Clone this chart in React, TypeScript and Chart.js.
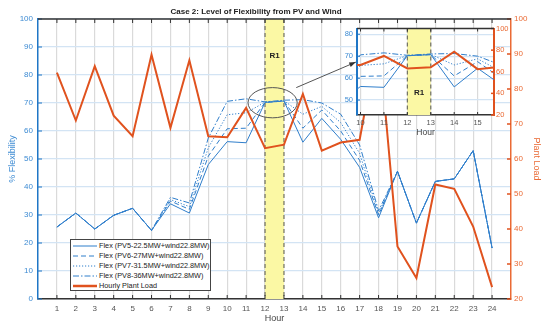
import React, { useEffect, useRef } from 'react';
import { Chart, registerables } from 'chart.js';

Chart.register(...registerables);

// ---------------- data ----------------
const hours = [1, 2, 3, 4, 5, 6, 7, 8, 9, 10, 11, 12, 13, 14, 15, 16, 17, 18, 19, 20, 21, 22, 23, 24];
const flexPV5 = [25.7, 30.7, 25.0, 29.9, 32.4, 24.5, 34.0, 30.7, 48.0, 56.2, 55.8, 70.2, 70.7, 56.0, 64.5, 57.0, 47.0, 29.0, 45.6, 27.1, 42.0, 42.9, 53.0, 18.2];
const flexPV6 = [25.7, 30.7, 25.0, 29.9, 32.4, 24.5, 35.0, 32.0, 51.0, 60.8, 61.0, 70.2, 70.7, 61.0, 67.5, 60.0, 49.5, 30.0, 45.6, 27.1, 42.0, 42.9, 53.0, 18.2];
const flexPV7 = [25.7, 30.7, 25.0, 29.9, 32.4, 24.5, 35.5, 33.0, 54.0, 65.8, 66.5, 70.3, 70.8, 66.0, 68.8, 63.0, 52.0, 30.5, 45.6, 27.1, 42.0, 42.9, 53.0, 18.2];
const flexPV8 = [25.7, 30.7, 25.0, 29.9, 32.4, 24.5, 36.3, 34.3, 57.5, 70.6, 71.5, 70.4, 71.0, 71.2, 70.0, 66.0, 55.0, 31.5, 45.6, 27.1, 42.0, 42.9, 53.0, 18.2];
const plantLoad = [84.7, 71.0, 86.5, 72.4, 66.5, 89.8, 68.9, 88.2, 66.5, 66.2, 74.6, 63.1, 64.1, 78.6, 62.4, 64.7, 65.5, 95.0, 35.0, 26.0, 52.7, 51.5, 40.7, 23.4];

const seriesLabels = [
  'Flex (PV5-22.5MW+wind22.8MW)',
  'Flex (PV6-27MW+wind22.8MW)',
  'Flex (PV7-31.5MW+wind22.8MW)',
  'Flex (PV8-36MW+wind22.8MW)',
  'Hourly Plant Load',
];
const chartTitle = 'Case 2: Level of Flexibility from PV and Wind';
const xTitle = 'Hour';
const leftTitle = '% Flexibility';
const rightTitle = 'Plant Load';
const leftTicks = [0, 10, 20, 30, 40, 50, 60, 70, 80, 90, 100];
const rightTicks = [20, 30, 40, 50, 60, 70, 80, 90, 100];
const insetXTicks = [10, 11, 12, 13, 14, 15];
const insetLeftTicks = [50, 60, 70, 80];
const insetRightTicks = [20, 40, 60, 80, 100];
const regionStart = 12;
const regionEnd = 13;
const regionLabel = 'R1';

// ---------------- styles ----------------
const BLUE = '#2f7ecb';
const BLUE_TXT = '#3d8bd3';
const BLUE_AXIS = '#1f76c6';
const ORANGE = '#e0521e';
const ORANGE_TXT = '#ea6a34';
const FONT = '"Liberation Sans", Arial, sans-serif';
const DASHES: number[][] = [[], [5, 3], [1.2, 1.8], [6, 2, 1.5, 2]];

function pts(arr: number[]) {
  return hours.map((h, i) => ({ x: h, y: arr[i] }));
}

function makeDatasets(): any[] {
  const flex = [flexPV5, flexPV6, flexPV7, flexPV8];
  const ds: any[] = [
    {
      label: seriesLabels[4],
      data: pts(plantLoad),
      borderColor: ORANGE,
      backgroundColor: ORANGE,
      borderWidth: 2,
      pointRadius: 0,
      yAxisID: 'y1',
      order: 0,
    },
  ];
  flex.forEach((arr, i) => {
    ds.push({
      label: seriesLabels[i],
      data: pts(arr),
      borderColor: BLUE,
      backgroundColor: BLUE,
      borderWidth: 1,
      borderDash: DASHES[i],
      pointRadius: 0,
      yAxisID: 'y',
      order: i + 1,
    });
  });
  return ds;
}

const setTicks = (vals: number[]) => (s: any) => {
  s.ticks = vals.map((v) => ({ value: v }));
};

const bandPlugin = {
  id: 'band',
  beforeDatasetsDraw(chart: any, _a: any, opts: any) {
    const { ctx, chartArea: ca, scales } = chart;
    const x = scales.x;
    const x0 = x.getPixelForValue(regionStart);
    const x1 = x.getPixelForValue(regionEnd);
    ctx.save();
    ctx.fillStyle = '#fbf8a4';
    ctx.fillRect(x0, ca.top, x1 - x0, ca.bottom - ca.top);
    ctx.strokeStyle = '#707060';
    ctx.lineWidth = 1.2;
    ctx.setLineDash([4, 3]);
    [x0, x1].forEach((px) => {
      ctx.beginPath();
      ctx.moveTo(px, ca.top);
      ctx.lineTo(px, ca.bottom);
      ctx.stroke();
    });
    ctx.setLineDash([]);
    ctx.fillStyle = '#222';
    ctx.font = `bold ${opts.fontSize || 8}px ${FONT}`;
    ctx.textAlign = 'center';
    ctx.textBaseline = 'middle';
    ctx.fillText(regionLabel, (x0 + x1) / 2, scales.y.getPixelForValue(opts.labelY));
    ctx.restore();
  },
};

const frameTicks = (ctx: any, ca: any, scales: any, len: number, xs: number[], ls: number[], rs: number[]) => {
  ctx.save();
  ctx.lineWidth = 1;
  ctx.strokeStyle = '#333';
  xs.forEach((v) => {
    const px = scales.x.getPixelForValue(v);
    ctx.beginPath();
    ctx.moveTo(px, ca.top);
    ctx.lineTo(px, ca.top + len);
    ctx.moveTo(px, ca.bottom);
    ctx.lineTo(px, ca.bottom - len);
    ctx.stroke();
  });
  ctx.strokeStyle = BLUE_AXIS;
  ls.forEach((v) => {
    const py = scales.y.getPixelForValue(v);
    ctx.beginPath();
    ctx.moveTo(ca.left, py);
    ctx.lineTo(ca.left + len, py);
    ctx.stroke();
  });
  ctx.strokeStyle = ORANGE;
  ctx.lineWidth = 1.5;
  rs.forEach((v) => {
    const py = scales.y1.getPixelForValue(v);
    ctx.beginPath();
    ctx.moveTo(ca.right, py);
    ctx.lineTo(ca.right - len, py);
    ctx.stroke();
  });
  // top frame line
  ctx.strokeStyle = '#333';
  ctx.lineWidth = 1.5;
  ctx.beginPath();
  ctx.moveTo(ca.left, ca.top);
  ctx.lineTo(ca.right, ca.top);
  ctx.stroke();
  ctx.restore();
};

const mainExtras = {
  id: 'mainExtras',
  afterDatasetsDraw(chart: any) {
    const { ctx, chartArea: ca, scales } = chart;
    frameTicks(ctx, ca, scales, 4, hours, leftTicks, rightTicks);
    const x = scales.x;
    const y = scales.y;
    // ellipse around region R1
    const cx = x.getPixelForValue(12.4);
    const cy = y.getPixelForValue(70.1);
    const rx = x.getPixelForValue(12.4 + 1.3) - cx;
    const ry = cy - y.getPixelForValue(70.1 + 5.4);
    ctx.save();
    ctx.strokeStyle = '#555';
    ctx.lineWidth = 1;
    ctx.beginPath();
    ctx.ellipse(cx, cy, rx, ry, 0, 0, Math.PI * 2);
    ctx.stroke();
    // arrow to the inset
    const ax0 = x.getPixelForValue(13.65);
    const ay0 = y.getPixelForValue(75.5);
    const ax1 = x.getPixelForValue(16.8);
    const ay1 = y.getPixelForValue(84.6);
    ctx.beginPath();
    ctx.moveTo(ax0, ay0);
    ctx.lineTo(ax1, ay1);
    ctx.stroke();
    const ang = Math.atan2(ay1 - ay0, ax1 - ax0);
    const hl = 7;
    ctx.fillStyle = '#333';
    ctx.beginPath();
    ctx.moveTo(ax1, ay1);
    ctx.lineTo(ax1 - hl * Math.cos(ang - 0.35), ay1 - hl * Math.sin(ang - 0.35));
    ctx.lineTo(ax1 - hl * Math.cos(ang + 0.35), ay1 - hl * Math.sin(ang + 0.35));
    ctx.closePath();
    ctx.fill();
    ctx.restore();
  },
};

const insetExtras = {
  id: 'insetExtras',
  beforeDraw(chart: any) {
    const { ctx, chartArea: ca } = chart;
    ctx.save();
    ctx.fillStyle = '#fff';
    ctx.fillRect(ca.left, ca.top, ca.right - ca.left, ca.bottom - ca.top);
    ctx.restore();
  },
  afterDatasetsDraw(chart: any) {
    const { ctx, chartArea: ca, scales } = chart;
    frameTicks(ctx, ca, scales, 3, insetXTicks, insetLeftTicks, insetRightTicks);
  },
};

function mainConfig(): any {
  return {
    type: 'line',
    data: { datasets: makeDatasets() },
    plugins: [bandPlugin, mainExtras],
    options: {
      animation: false,
      responsive: false,
      events: [],
      layout: { padding: { top: 19, left: 0, right: 0, bottom: 0 } },
      plugins: {
        legend: { display: false },
        tooltip: { enabled: false },
        title: { display: false },
        band: { labelY: 86.9, fontSize: 8 },
      },
      scales: {
        x: {
          type: 'linear',
          min: 0,
          max: 25,
          afterBuildTicks: setTicks(hours),
          afterFit: (s: any) => { s.height = 30; },
          ticks: { color: '#555', font: { family: FONT, size: 8 }, padding: 5, maxRotation: 0, autoSkip: false },
          grid: { color: '#dadada', lineWidth: 1.2, drawTicks: false },
          border: { color: '#333', width: 1.5 },
          title: { display: true, text: xTitle, color: '#444', font: { family: FONT, size: 9 }, padding: { top: 0, bottom: 4.6 } },
        },
        y: {
          position: 'left',
          min: 0,
          max: 100,
          afterBuildTicks: setTicks(leftTicks),
          afterFit: (s: any) => { s.width = 38; },
          ticks: { color: BLUE_TXT, font: { family: FONT, size: 8 }, padding: 5 },
          grid: { color: '#d3e4f4', lineWidth: 1.2, drawTicks: false },
          border: { color: BLUE_AXIS, width: 1.5 },
          title: { display: true, text: leftTitle, color: BLUE_TXT, font: { family: FONT, size: 9 }, padding: { top: 7, bottom: 0 } },
        },
        y1: {
          position: 'right',
          min: 20,
          max: 100,
          afterBuildTicks: setTicks(rightTicks),
          afterFit: (s: any) => { s.width = 39; },
          ticks: { color: ORANGE_TXT, font: { family: FONT, size: 8 }, padding: 3 },
          grid: { display: false, drawTicks: false },
          border: { color: ORANGE_TXT, width: 1.5 },
          title: { display: true, text: rightTitle, color: ORANGE_TXT, font: { family: FONT, size: 9 }, padding: { top: 8, bottom: 0 } },
        },
      },
    },
  };
}

function insetConfig(): any {
  return {
    type: 'line',
    data: { datasets: makeDatasets() },
    plugins: [insetExtras, bandPlugin],
    options: {
      animation: false,
      responsive: false,
      events: [],
      layout: { padding: { top: 8, left: 0, right: 0, bottom: 0 } },
      plugins: {
        legend: { display: false },
        tooltip: { enabled: false },
        title: { display: false },
        band: { labelY: 53.3, fontSize: 8 },
      },
      scales: {
        x: {
          type: 'linear',
          min: 9.85,
          max: 15.7,
          afterBuildTicks: setTicks(insetXTicks),
          afterFit: (s: any) => { s.height = 30; },
          ticks: { color: '#555', font: { family: FONT, size: 7.5 }, padding: 3, maxRotation: 0, autoSkip: false },
          grid: { color: '#dadada', lineWidth: 1.2, drawTicks: false },
          border: { color: '#333', width: 1.5 },
          title: { display: true, text: xTitle, color: '#444', font: { family: FONT, size: 8.5 }, padding: { top: 0, bottom: 7.2 } },
        },
        y: {
          position: 'left',
          min: 43.2,
          max: 82.6,
          afterBuildTicks: setTicks(insetLeftTicks),
          afterFit: (s: any) => { s.width = 27; },
          ticks: { color: BLUE_TXT, font: { family: FONT, size: 7.5 }, padding: 4 },
          grid: { color: '#d3e4f4', lineWidth: 1.2, drawTicks: false },
          border: { color: BLUE_AXIS, width: 2 },
        },
        y1: {
          position: 'right',
          min: 20,
          max: 100,
          afterBuildTicks: setTicks(insetRightTicks),
          afterFit: (s: any) => { s.width = 26; },
          ticks: { color: ORANGE_TXT, font: { family: FONT, size: 7.5 }, padding: 2 },
          grid: { display: false, drawTicks: false },
          border: { color: ORANGE, width: 2 },
        },
      },
    },
  };
}

const legendItems = [
  { label: seriesLabels[0], color: BLUE, dash: '', width: 1 },
  { label: seriesLabels[1], color: BLUE, dash: '5 3', width: 1 },
  { label: seriesLabels[2], color: BLUE, dash: '1.2 1.8', width: 1 },
  { label: seriesLabels[3], color: BLUE, dash: '6 2 1.5 2', width: 1 },
  { label: seriesLabels[4], color: ORANGE, dash: '', width: 2.5 },
];

export default function App() {
  const mainRef = useRef<HTMLCanvasElement | null>(null);
  const insetRef = useRef<HTMLCanvasElement | null>(null);

  useEffect(() => {
    const main = new Chart(mainRef.current as HTMLCanvasElement, mainConfig());
    const inset = new Chart(insetRef.current as HTMLCanvasElement, insetConfig());
    return () => {
      main.destroy();
      inset.destroy();
    };
  }, []);

  return (
    <div style={{ position: 'fixed', left: 0, top: 0, width: 550, height: 329, background: '#fff', overflow: 'hidden' }}>
      <canvas ref={mainRef} width={550} height={329} style={{ position: 'absolute', left: 0, top: 0 }} />
      <canvas ref={insetRef} width={190} height={125} style={{ position: 'absolute', left: 330, top: 20 }} />
      <div
        style={{
          position: 'absolute',
          left: 156,
          top: 6,
          width: 200,
          textAlign: 'center',
          fontFamily: FONT,
          fontWeight: 'bold',
          fontSize: 8,
          lineHeight: '12px',
          color: '#222',
          whiteSpace: 'nowrap',
        }}
      >
        {chartTitle}
      </div>
      <div
        style={{
          position: 'absolute',
          left: 70,
          top: 239,
          width: 141,
          height: 52,
          boxSizing: 'border-box',
          border: '1px solid #444',
          background: '#fff',
          padding: '1px 0 0 2px',
          fontFamily: FONT,
          fontSize: 7.3,
          color: '#222',
        }}
      >
        {legendItems.map((it) => (
          <div key={it.label} style={{ display: 'flex', alignItems: 'center', height: 10 }}>
            <svg width={24} height={6} style={{ flex: 'none' }}>
              <line x1={0} y1={3} x2={24} y2={3} stroke={it.color} strokeWidth={it.width} strokeDasharray={it.dash || undefined} />
            </svg>
            <span style={{ marginLeft: 2, whiteSpace: 'nowrap', lineHeight: '10px' }}>{it.label}</span>
          </div>
        ))}
      </div>
    </div>
  );
}
